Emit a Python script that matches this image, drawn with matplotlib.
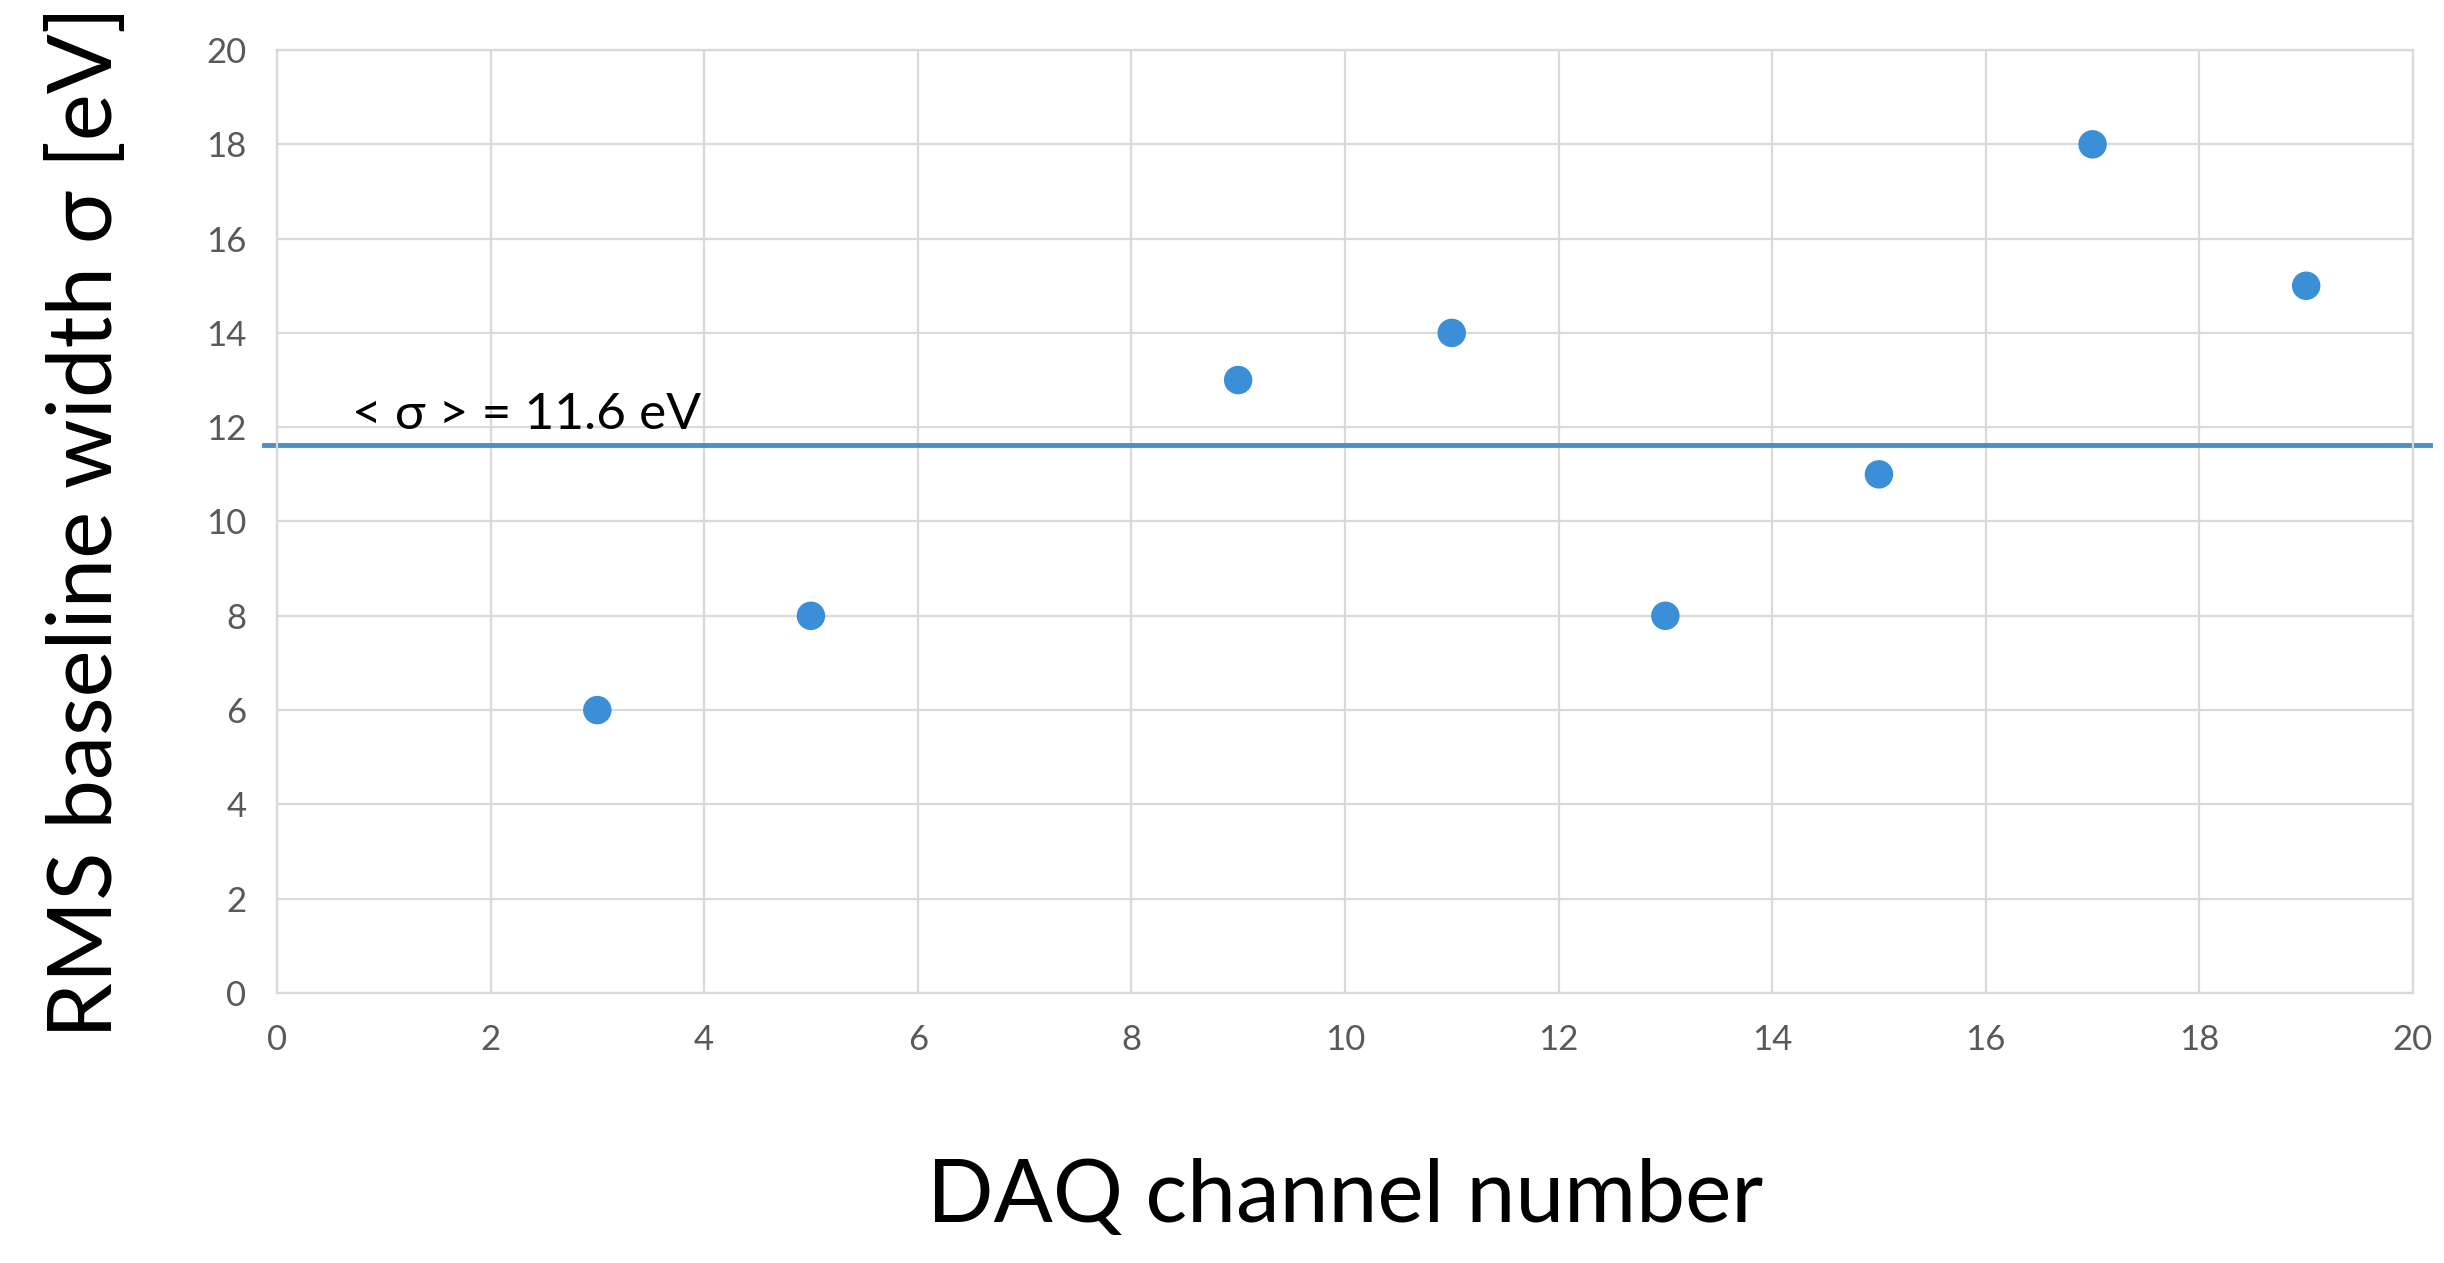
import numpy as np
import matplotlib
matplotlib.use('Agg')
import matplotlib.pyplot as plt

plt.rcParams['font.family'] = ['Lato', 'DejaVu Sans']

# Baseline width per DAQ channel
channels = [3, 5, 9, 11, 13, 15, 17, 19]
sigma_ev = [6, 8, 13, 14, 8, 11, 18, 15]

x_ticks = [0, 2, 4, 6, 8, 10, 12, 14, 16, 18, 20]
y_ticks = [0, 2, 4, 6, 8, 10, 12, 14, 16, 18, 20]

mean_sigma = np.mean(sigma_ev)

fig = plt.figure(figsize=(24.44, 12.63), dpi=100)
ax = fig.add_axes([0.1133, 0.2138, 0.874, 0.7466])

grid_col = '#d9d9d9'
ax.set_xlim(0, 20)
ax.set_ylim(0, 20)
ax.set_xticks(x_ticks)
ax.set_yticks(y_ticks)
ax.grid(True, color=grid_col, linewidth=1.6, zorder=0)
ax.set_axisbelow(True)
for s in ax.spines.values():
    s.set_color(grid_col)
    s.set_linewidth(1.6)
ax.tick_params(length=0, labelsize=25, labelcolor='#595959', pad=22)

ax.scatter(channels, sigma_ev, s=420, color='#3a8fd6', edgecolors='none', zorder=3)

# average line, runs a touch past both spines
ax.axhline(mean_sigma, xmin=-0.006, xmax=1.008, color='#4a8fc8', linewidth=3.5,
           clip_on=False, zorder=2)
ax.text(0.7, mean_sigma + 0.15, '< σ > = %.1f eV' % mean_sigma, fontsize=37,
        color='black', ha='left', va='bottom')

ax.set_xlabel('DAQ channel number', fontsize=63, labelpad=74)
ax.set_ylabel('RMS baseline width σ [eV]', fontsize=64, labelpad=56)

fig.savefig('out.png', dpi=100)
